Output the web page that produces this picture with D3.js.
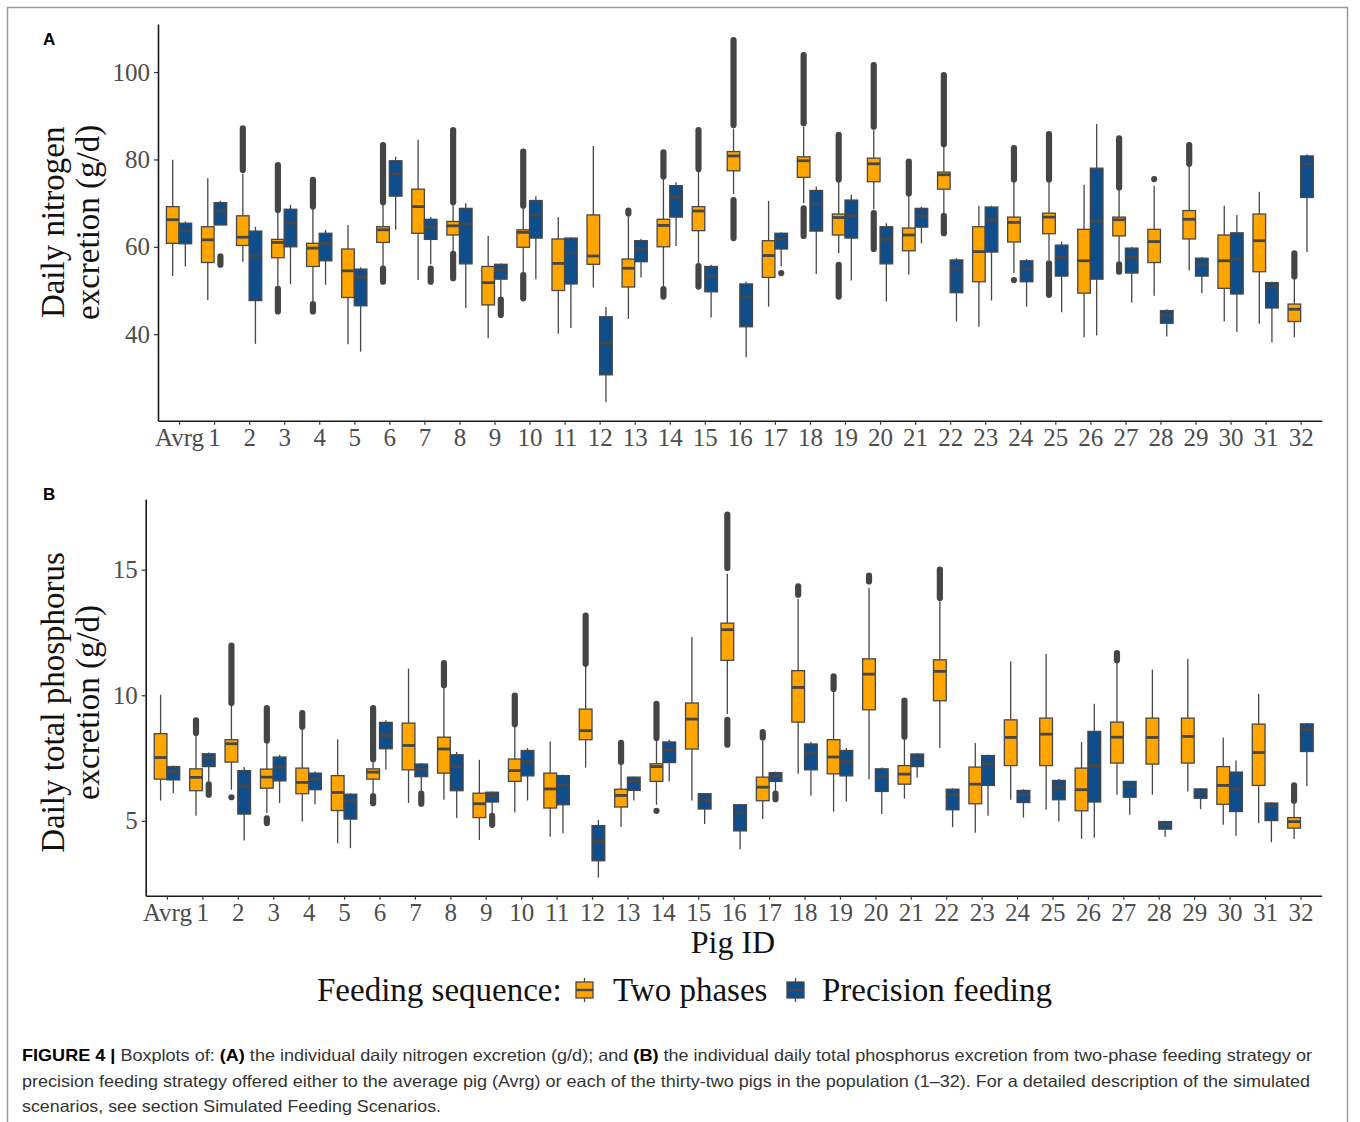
<!DOCTYPE html>
<html>
<head>
<meta charset="utf-8">
<script src="https://cdn.jsdelivr.net/npm/d3@7"></script>
<style>
  body { margin: 0; background: #fff; }
  svg { display: block; }
</style>
</head>
<body>
<svg id="fig" width="1360" height="1122"></svg>
<script>
// categories on the x axis
const pigIds = ["Avrg","1","2","3","4","5","6","7","8","9","10","11","12","13","14","15","16",
  "17","18","19","20","21","22","23","24","25","26","27","28","29","30","31","32"];

// box stats: [lower whisker, q1, median, q3, upper whisker]
// (A) daily nitrogen excretion, two phases
const nitroTwo = [
  [53.3,60.8,66.2,69.2,79.9],[47.8,56.4,61.6,64.6,75.7],[56.6,60.3,62.2,67.1,76.8],[50.9,57.5,61.0,61.7,67.8],
  [47.5,55.5,59.7,60.8,68.6],[37.7,48.4,54.5,59.5,65.0],[55.5,61.0,63.9,64.6,69.6],[52.4,63.1,69.2,73.2,84.5],
  [58.9,62.7,64.8,65.8,69.6],[39.1,46.7,51.8,55.5,62.5],[54.0,59.9,63.3,63.9,68.8],[40.1,50.0,56.2,61.8,66.8],
  [50.7,56.0,57.9,67.3,83.1],[43.5,50.8,55.1,57.2,66.9],[50.9,60.0,64.9,66.3,75.5],[56.2,63.7,68.2,69.2,77.2],
  [72.1,77.4,80.8,81.8,87.1],[46.3,53.0,58.0,61.4,70.5],[70.0,75.9,79.7,80.6,87.5],[58.5,62.7,66.7,67.5,74.7],
  [68.6,74.9,79.0,80.3,86.7],[53.6,59.1,62.7,64.3,71.6],[67.7,73.2,76.5,77.1,82.9],[41.7,52.0,58.9,64.6,69.4],
  [54.0,61.1,65.6,66.8,74.8],[57.0,63.0,66.8,67.7,74.7],[39.3,49.4,56.8,64.0,74.2],[56.6,62.5,66.2,66.8,73.0],
  [48.8,56.4,61.2,64.0,74.0],[54.6,61.8,66.3,68.3,78.4],[42.9,50.5,56.8,62.7,69.4],[42.4,54.3,61.4,67.5,72.6],
  [39.3,42.9,45.7,46.9,52.6]
];
// outlier runs [from, to] (the dots are packed into solid columns)
const nitroTwoOut = [
  [],[],[[77.6,87.1]],[[68.4,78.7],[45.2,50.4]],[[69.2,75.3],[45.2,46.9]],[],[[70.2,83.3],[52.0,55.0]],[],
  [[70.2,86.7],[52.8,58.4]],[],[[69.4,81.8],[48.2,53.5]],[],[],[[67.6,68.3]],[[76.1,81.6],[48.6,50.3]],
  [[77.8,86.7],[50.9,55.6]],[[87.9,107.3],[62.0,70.7]],[],[[88.3,103.9],[62.5,68.8]],[[75.4,85.6],[48.6,55.9]],
  [[87.5,101.6],[59.5,67.7]],[[72.2,79.5]],[[83.5,99.3],[63.1,67.1]],[],[[75.4,82.6],[52.4,52.4]],
  [[75.4,85.8],[49.0,56.2]],[],[[73.6,84.8],[54.3,56.0]],[[75.5,75.5]],[[79.0,83.3]],[],[],[[53.2,58.5]]
];
// (A) daily nitrogen excretion, precision feeding
const nitroPrec = [
  [55.5,60.7,63.7,65.4,65.8],[65.0,65.0,68.2,70.1,70.5],[37.8,47.7,57.9,63.6,64.6],[51.5,60.0,65.4,68.6,69.6],
  [51.3,56.8,60.8,63.1,63.9],[36.0,46.5,53.0,54.9,55.3],[63.9,71.6,76.7,79.7,80.6],[56.0,61.7,64.5,66.3,66.8],
  [46.0,56.1,65.2,68.8,70.0],[48.5,52.6,54.7,56.0,56.2],[52.6,62.0,67.3,70.6,71.6],[41.4,51.5,58.7,62.0,62.2],
  [24.4,30.7,37.9,44.0,46.2],[53.0,56.6,59.5,61.4,61.8],[60.2,66.8,71.3,74.0,74.8],[43.8,49.7,53.2,55.5,55.9],
  [34.7,41.7,48.5,51.5,52.0],[55.5,59.5,61.8,63.1,63.3],[53.8,63.6,69.7,72.9,73.8],[52.3,62.0,67.1,70.7,71.9],
  [47.5,56.1,61.7,64.6,65.4],[60.8,64.5,67.1,68.8,69.2],[42.9,49.5,55.1,57.0,57.4],[47.7,58.8,66.2,69.1,69.4],
  [46.3,52.0,55.0,56.8,57.2],[45.0,53.3,57.6,60.4,61.2],[39.7,52.6,65.9,78.0,88.1],[47.2,54.0,57.6,59.7,60.0],
  [39.5,42.5,44.3,45.4,45.7],[49.4,53.3,55.9,57.4,57.6],[40.5,49.2,57.2,63.2,67.3],[38.1,46.0,50.8,51.8,52.0],
  [58.8,71.3,78.9,80.8,81.2]
];
const nitroPrecOut = [
  [],[[55.9,57.8]],[],[],[],[],[],[[52.0,55.0]],[],[[44.4,47.9]],[],[],[],[],[],[],[],[[54.0,54.0]],
  [],[],[],[],[],[],[],[],[],[],[],[],[],[],[]
];

// (B) daily total phosphorus excretion, two phases
const phosTwo = [
  [5.81,6.66,7.52,8.47,10.02],[5.20,6.20,6.73,7.07,8.40],[6.24,7.34,8.07,8.23,9.62],[5.31,6.30,6.74,7.06,8.10],
  [4.97,6.08,6.53,7.10,8.69],[4.11,5.41,6.13,6.80,8.25],[6.10,6.66,6.94,7.07,7.32],[5.71,7.03,8.00,8.89,11.06],
  [5.84,6.90,7.86,8.33,10.29],[4.24,5.13,5.68,6.10,7.43],[5.33,6.57,7.00,7.46,8.76],[4.37,5.51,6.27,6.90,8.16],
  [7.12,8.23,8.59,9.45,11.15],[4.75,5.55,6.01,6.26,7.26],[5.64,6.57,7.16,7.27,8.23],[5.81,7.86,9.05,9.69,12.32],
  [9.25,11.39,12.61,12.87,14.84],[5.07,5.80,6.34,6.74,8.20],[6.87,8.93,10.31,10.98,13.83],[5.37,6.87,7.54,8.23,10.15],
  [6.66,9.42,10.84,11.45,14.27],[5.88,6.46,6.86,7.20,8.25],[7.90,9.78,10.95,11.41,13.74],[4.53,5.68,6.46,7.14,8.10],
  [5.84,7.20,8.32,9.02,11.35],[5.44,7.20,8.45,9.09,11.64],[4.28,5.40,6.24,7.10,8.14],[6.04,7.30,8.33,8.93,11.32],
  [6.04,7.26,8.32,9.09,11.02],[6.17,7.30,8.36,9.09,11.45],[4.84,5.66,6.41,7.16,8.32],[4.91,6.41,7.72,8.85,10.05],
  [4.28,4.71,4.97,5.13,5.71]
];
const phosTwoOut = [
  [],[[8.50,9.00]],[[9.69,11.98],[5.94,5.94]],[[8.20,9.49],[4.91,5.10]],[[8.75,9.29]],[],[[7.45,9.49],[5.70,5.98]],[],
  [[10.40,11.28]],[],[[8.85,9.99]],[],[[11.25,13.17]],[[7.35,8.10]],[[8.30,9.66],[5.40,5.40]],[],
  [[15.07,17.19],[8.03,9.02]],[[8.32,8.53]],[[14.00,14.33]],[[10.25,10.75]],[[14.53,14.76]],[[8.35,9.79]],
  [[13.87,15.00]],[],[],[],[],[[11.39,11.68]],[],[],[],[],[[5.80,6.41]]
];
// (B) daily total phosphorus excretion, precision feeding
const phosPrec = [
  [6.10,6.63,6.96,7.16,7.20],[6.57,7.16,7.50,7.67,7.72],[4.22,5.27,6.39,7.00,7.14],[5.71,6.59,7.14,7.54,7.63],
  [5.66,6.24,6.66,6.90,6.96],[3.91,5.07,5.81,6.06,6.10],[7.03,7.87,8.40,8.92,9.00],[6.17,6.76,7.07,7.26,7.30],
  [5.11,6.20,7.16,7.63,7.74],[5.30,5.75,6.00,6.14,6.17],[5.81,6.79,7.36,7.80,7.90],[4.51,5.64,6.43,6.80,6.83],
  [2.74,3.41,4.18,4.81,5.04],[5.81,6.21,6.57,6.74,6.76],[6.57,7.32,7.83,8.14,8.23],[4.87,5.47,5.84,6.08,6.10],
  [3.87,4.60,5.33,5.64,5.68],[6.17,6.57,6.79,6.92,6.96],[6.00,7.03,7.70,8.06,8.14],[5.77,6.79,7.36,7.80,7.90],
  [5.27,6.17,6.76,7.07,7.12],[6.73,7.16,7.47,7.66,7.70],[4.75,5.44,6.04,6.26,6.30],[5.20,6.41,7.26,7.60,7.63],
  [5.13,5.73,6.04,6.21,6.26],[4.97,5.84,6.33,6.61,6.67],[4.33,5.75,7.20,8.56,9.66],[5.24,5.94,6.37,6.57,6.59],
  [4.37,4.67,4.87,4.97,5.00],[5.47,5.90,6.14,6.27,6.30],[4.41,5.37,6.27,6.94,7.40],[4.15,5.01,5.57,5.71,5.73],
  [6.39,7.76,8.63,8.86,8.89]
];
const phosPrecOut = [
  [],[[6.04,6.45]],[],[],[],[],[],[[5.68,6.08]],[],[[4.84,5.20]],[],[],[],[],[],[],[],[[5.86,6.08]],
  [],[],[],[],[],[],[],[],[],[],[],[],[],[],[]
];

const nitroTicks = [40, 60, 80, 100];
const phosTicks = [5, 10, 15];
const seriesNames = ["Two phases", "Precision feeding"];
const seriesColors = {"Two phases": "#FFA500", "Precision feeding": "#104E8B"};

const serif = "'Liberation Serif', 'Times New Roman', serif";
const sans = "'Liberation Sans', Arial, sans-serif";
const ink = "#474747";

const svg = d3.select("#fig");

// outer frame (open at the bottom, as in the page crop)
svg.append("path")
  .attr("d", "M7.5,1122V7.5H1347.5V1122")
  .attr("fill", "none").attr("stroke", "#9a9a9a").attr("stroke-width", 1.5);

function drawPanel(p) {
  const g = svg.append("g");
  const x = d3.scalePoint().domain(pigIds).range(p.xRange).padding(0.6);
  const bw = x.step() * 0.72;
  const dodge = d3.scaleBand().domain(seriesNames).range([-bw / 2, bw / 2]);
  const y = d3.scaleLinear().domain(p.yDomain).range(p.yRange);

  // axes
  const xAxis = g.append("g")
    .attr("transform", "translate(0," + p.yRange[0] + ")")
    .call(d3.axisBottom(x).tickSize(4).tickSizeOuter(0).tickPadding(4));
  const yAxis = g.append("g")
    .attr("transform", "translate(" + p.xRange[0] + ",0)")
    .call(d3.axisLeft(y).tickValues(p.ticks).tickSize(4).tickSizeOuter(0).tickPadding(4));
  [xAxis, yAxis].forEach(a => {
    a.select(".domain").attr("stroke", "#1a1a1a").attr("stroke-width", 1.6);
    a.selectAll(".tick line").attr("stroke", "#333").attr("stroke-width", 1.2);
    a.selectAll(".tick text").attr("fill", "#4d4d4d")
      .style("font-family", serif).style("font-size", "25px");
  });

  const rows = [];
  pigIds.forEach((id, i) => {
    rows.push({id: id, s: seriesNames[0], v: p.two[i], out: p.twoOut[i]});
    rows.push({id: id, s: seriesNames[1], v: p.prec[i], out: p.precOut[i]});
  });
  const left = d => x(d.id) + dodge(d.s);
  const mid = d => left(d) + dodge.bandwidth() / 2;

  const boxes = g.append("g").selectAll("g").data(rows).join("g");

  // whiskers
  boxes.append("line")
    .attr("x1", mid).attr("x2", mid)
    .attr("y1", d => y(d.v[3])).attr("y2", d => y(d.v[4]))
    .attr("stroke", ink).attr("stroke-width", 1.3);
  boxes.append("line")
    .attr("x1", mid).attr("x2", mid)
    .attr("y1", d => y(d.v[1])).attr("y2", d => y(d.v[0]))
    .attr("stroke", ink).attr("stroke-width", 1.3);

  // outliers: packed dots drawn as round-capped runs
  boxes.selectAll(".out").data(d => d.out.map(o => ({o: o, d: d}))).join("line")
    .attr("class", "out")
    .attr("x1", e => mid(e.d)).attr("x2", e => mid(e.d))
    .attr("y1", e => y(e.o[0])).attr("y2", e => y(e.o[1]))
    .attr("stroke", "#454545").attr("stroke-width", 6.2).attr("stroke-linecap", "round");

  // boxes
  boxes.append("rect")
    .attr("x", left).attr("width", dodge.bandwidth())
    .attr("y", d => y(d.v[3])).attr("height", d => y(d.v[1]) - y(d.v[3]))
    .attr("fill", d => seriesColors[d.s])
    .attr("stroke", ink).attr("stroke-width", 1.3);
  // medians
  boxes.append("line")
    .attr("x1", left).attr("x2", d => left(d) + dodge.bandwidth())
    .attr("y1", d => y(d.v[2])).attr("y2", d => y(d.v[2]))
    .attr("stroke", ink).attr("stroke-width", 2.8);

  // y title, two lines
  const ty = (p.yRange[0] + p.yRange[1]) / 2 + p.titleShift;
  p.title.forEach((t, k) => {
    svg.append("text")
      .attr("transform", "translate(" + (64 + k * 35) + "," + ty + ") rotate(-90)")
      .attr("text-anchor", "middle")
      .style("font-family", serif).style("font-size", "33px").attr("fill", "#111")
      .text(t);
  });

  // panel letter
  svg.append("text").attr("x", 43).attr("y", p.letterY)
    .style("font-family", sans).style("font-size", "17px").style("font-weight", "bold")
    .attr("fill", "#000").text(p.letter);
}

drawPanel({
  two: nitroTwo, twoOut: nitroTwoOut, prec: nitroPrec, precOut: nitroPrecOut,
  ticks: nitroTicks, xRange: [158, 1321.7], yDomain: [20.2, 111], yRange: [420.7, 24],
  title: ["Daily nitrogen", "excretion (g/d)"], titleShift: 0, letter: "A", letterY: 45
});
drawPanel({
  two: phosTwo, twoOut: phosTwoOut, prec: phosPrec, precOut: phosPrecOut,
  ticks: phosTicks, xRange: [145.7, 1321.7], yDomain: [2.02, 17.8], yRange: [895.7, 499.3],
  title: ["Daily total phosphorus", "excretion (g/d)"], titleShift: 5, letter: "B", letterY: 500
});

// x title
svg.append("text").attr("x", 733).attr("y", 953).attr("text-anchor", "middle")
  .style("font-family", serif).style("font-size", "32px").attr("fill", "#111").text("Pig ID");

// legend
const lg = svg.append("g");
lg.append("text").attr("x", 317).attr("y", 1001)
  .style("font-family", serif).style("font-size", "33px").attr("fill", "#111")
  .text("Feeding sequence:");
const keyX = {"Two phases": 575, "Precision feeding": 786};
const labX = {"Two phases": 613, "Precision feeding": 822};
seriesNames.forEach(s => {
  const k = lg.append("g").attr("transform", "translate(" + keyX[s] + ",0)");
  k.append("line").attr("x1", 9.5).attr("x2", 9.5).attr("y1", 978).attr("y2", 1002)
    .attr("stroke", ink).attr("stroke-width", 1.3);
  k.append("rect").attr("x", 1).attr("y", 982).attr("width", 17).attr("height", 16)
    .attr("fill", seriesColors[s]).attr("stroke", ink).attr("stroke-width", 1.3);
  k.append("line").attr("x1", 1).attr("x2", 18).attr("y1", 990).attr("y2", 990)
    .attr("stroke", ink).attr("stroke-width", 2.4);
  lg.append("text").attr("x", labX[s]).attr("y", 1001)
    .style("font-family", serif).style("font-size", "33px").attr("fill", "#111")
    .text(s);
});

// caption
const caption = [
  {y: 1061, w: 1290, parts: [["FIGURE 4 |", true], [" Boxplots of: ", false], ["(A)", true],
    [" the individual daily nitrogen excretion (g/d); and ", false], ["(B)", true],
    [" the individual daily total phosphorus excretion from two-phase feeding strategy or", false]]},
  {y: 1087, w: 1288, parts: [["precision feeding strategy offered either to the average pig (Avrg) or each of the thirty-two pigs in the population (1\u201332). For a detailed description of the simulated", false]]},
  {y: 1112, w: 419, parts: [["scenarios, see section Simulated Feeding Scenarios.", false]]}
];
caption.forEach(line => {
  const t = svg.append("text").attr("x", 22).attr("y", line.y)
    .attr("textLength", line.w).attr("lengthAdjust", "spacingAndGlyphs")
    .style("font-family", sans).style("font-size", "16.5px").attr("fill", "#333");
  line.parts.forEach(pt => {
    t.append("tspan").text(pt[0])
      .style("font-weight", pt[1] ? "bold" : "normal")
      .attr("fill", pt[1] ? "#000" : "#333");
  });
});
</script>
</body>
</html>
